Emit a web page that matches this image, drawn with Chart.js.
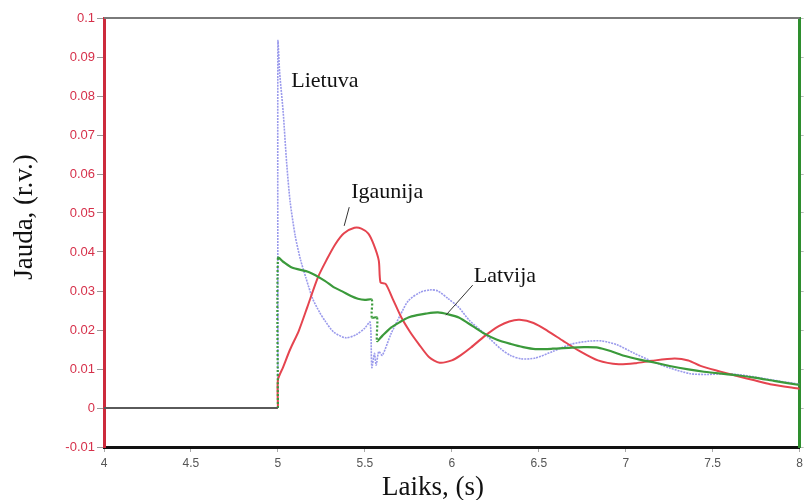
<!DOCTYPE html>
<html>
<head>
<meta charset="utf-8">
<script src="https://cdn.jsdelivr.net/npm/chart.js@4/dist/chart.umd.min.js"></script>
<style>
  html, body { margin: 0; padding: 0; background: #fff; }
  #wrap { width: 807px; height: 500px; }
</style>
</head>
<body>
<div id="wrap"><canvas id="c" width="807" height="500"></canvas></div>
<script>
// ticks
const xTicks = [4, 4.5, 5, 5.5, 6, 6.5, 7, 7.5, 8];
const yTicks = [-0.01, 0, 0.01, 0.02, 0.03, 0.04, 0.05, 0.06, 0.07, 0.08, 0.09, 0.1];

// flat part before the disturbance (all three overlap)
const zeroT = [4, 5];
const zeroV = [0, 0];

// Lietuva
const lietuvaT = [5, 5, 5.01, 5.03, 5.05, 5.07, 5.1, 5.13, 5.16, 5.2, 5.24, 5.27, 5.32, 5.39, 5.45, 5.5, 5.53,
  5.54, 5.555, 5.565, 5.58, 5.6, 5.65, 5.7, 5.75, 5.82, 5.88, 5.92, 5.98, 6.04, 6.1, 6.19, 6.28, 6.34,
  6.4, 6.48, 6.58, 6.69, 6.78, 6.86, 6.95, 7.05, 7.15, 7.25, 7.37, 7.47, 7.57, 7.66, 7.76, 7.88, 8];
const lietuvaV = [0, 0.094, 0.086, 0.076, 0.063, 0.053, 0.044, 0.038, 0.0335, 0.028, 0.0245, 0.0224, 0.0195, 0.018, 0.0188, 0.0205, 0.022,
  0.0104, 0.014, 0.011, 0.0145, 0.0135, 0.019, 0.0235, 0.0275, 0.0297, 0.0303, 0.03, 0.028, 0.0258, 0.0225, 0.019, 0.0152, 0.0134,
  0.0126, 0.0128, 0.0145, 0.0164, 0.0171, 0.0172, 0.0162, 0.014, 0.012, 0.0103, 0.0088, 0.0086, 0.0088, 0.0085, 0.0078, 0.0069, 0.0061];

// Igaunija
const igaunijaT = [5, 5, 5.03, 5.07, 5.12, 5.17, 5.23, 5.28, 5.33, 5.38, 5.44, 5.48, 5.52, 5.55, 5.58, 5.59, 5.62,
  5.66, 5.71, 5.76, 5.81, 5.87, 5.93, 6, 6.05, 6.11, 6.19, 6.27, 6.33, 6.39, 6.47, 6.55, 6.64, 6.73, 6.84,
  6.96, 7.06, 7.15, 7.28, 7.36, 7.43, 7.54, 7.64, 7.74, 7.83, 8];
const igaunijaV = [0, 0.0072, 0.0105, 0.015, 0.0198, 0.026, 0.0335, 0.038, 0.042, 0.0448, 0.0462, 0.046, 0.0447, 0.042, 0.0378, 0.0322, 0.0318,
  0.028, 0.0232, 0.0195, 0.0164, 0.013, 0.0116, 0.0122, 0.0135, 0.0155, 0.0185, 0.021, 0.0222, 0.0226, 0.0218, 0.0198, 0.0172, 0.0147, 0.0122,
  0.0112, 0.0115, 0.0121, 0.0127, 0.0122, 0.0108, 0.0094, 0.0082, 0.0071, 0.0061, 0.0049];

// Latvija
const latvijaT = [5, 5, 5.03, 5.08, 5.18, 5.27, 5.32, 5.37, 5.42, 5.46, 5.5, 5.54, 5.54, 5.57, 5.57, 5.6, 5.65,
  5.7, 5.75, 5.8, 5.85, 5.92, 5.98, 6.04, 6.12, 6.19, 6.26, 6.34, 6.41, 6.48, 6.58, 6.69, 6.76, 6.84, 6.92,
  6.99, 7.08, 7.17, 7.26, 7.36, 7.45, 7.55, 7.64, 7.74, 7.86, 8];
const latvijaV = [0, 0.0385, 0.0375, 0.036, 0.0348, 0.0326, 0.031, 0.0299, 0.0287, 0.028, 0.0277, 0.0278, 0.0232, 0.0232, 0.0172, 0.0185, 0.0206,
  0.022, 0.0232, 0.0238, 0.0242, 0.0245, 0.024, 0.0232, 0.021, 0.019, 0.0175, 0.0164, 0.0156, 0.0151, 0.0152, 0.0155, 0.0156, 0.0155, 0.0145,
  0.0134, 0.0124, 0.0116, 0.0107, 0.0099, 0.0093, 0.0088, 0.0084, 0.0078, 0.0069, 0.0059];

const pts = (ts, vs) => ts.map((t, i) => ({ x: t, y: vs[i] }));

// labels placed in data coords, leader lines from -> to
const notes = [
  { text: "Lietuva", x: 5.077, y: 0.0823 },
  { text: "Igaunija", x: 5.421, y: 0.0538, line: [5.41, 0.0515, 5.381, 0.0467] },
  { text: "Latvija", x: 6.126, y: 0.0323, line: [6.12, 0.0315, 5.966, 0.0238] },
];

const vertDots = (dash) => ({
  borderDash: (ctx) => (ctx.p0.parsed.x === ctx.p1.parsed.x ? [2, 2] : dash),
});

const extras = {
  id: "extras",
  afterDraw(chart) {
    const { ctx, chartArea: a, scales } = chart;
    const x = scales.x, y = scales.y;
    ctx.save();
    // top frame line
    ctx.strokeStyle = "#7a7a7a";
    ctx.lineWidth = 2;
    ctx.beginPath();
    ctx.moveTo(a.left, a.top);
    ctx.lineTo(a.right, a.top);
    ctx.stroke();

    ctx.font = "22px 'Liberation Serif'";
    ctx.fillStyle = "#111";
    ctx.textBaseline = "alphabetic";
    notes.forEach((n) => {
      ctx.fillText(n.text, x.getPixelForValue(n.x), y.getPixelForValue(n.y));
      if (n.line) {
        ctx.strokeStyle = "#333";
        ctx.lineWidth = 1;
        ctx.beginPath();
        ctx.moveTo(x.getPixelForValue(n.line[0]), y.getPixelForValue(n.line[1]));
        ctx.lineTo(x.getPixelForValue(n.line[2]), y.getPixelForValue(n.line[3]));
        ctx.stroke();
      }
    });

    // axis titles
    ctx.font = "27px 'Liberation Serif'";
    ctx.textAlign = "center";
    ctx.textBaseline = "alphabetic";
    ctx.fillText("Laiks, (s)", 433, 495);
    ctx.translate(32, 217);
    ctx.rotate(-Math.PI / 2);
    ctx.fillText("Jauda, (r.v.)", 0, 0);
    ctx.restore();
  },
};

const tickFont = { family: "'Liberation Sans', Arial, sans-serif", size: 12 };

new Chart(document.getElementById("c"), {
  type: "line",
  data: {
    datasets: [
      { data: pts(zeroT, zeroV), borderColor: "#5a5a5a", borderWidth: 2, tension: 0 },
      { data: pts(latvijaT, latvijaV), borderColor: "#3b9a3b", borderWidth: 2.2, segment: vertDots(undefined) },
      { data: pts(igaunijaT, igaunijaV), borderColor: "#e5444f", borderWidth: 2 },
      { data: pts(lietuvaT, lietuvaV), borderColor: "#9a9aec", borderWidth: 1.6, borderDash: [2, 1] },
    ],
  },
  options: {
    responsive: false,
    animation: false,
    layout: { padding: { top: 18, left: 0, right: 0, bottom: 0 } },
    elements: { point: { radius: 0 }, line: { tension: 0.25, capBezierPoints: true } },
    plugins: { legend: { display: false }, tooltip: { enabled: false } },
    scales: {
      x: {
        type: "linear",
        min: 4,
        max: 8,
        afterBuildTicks: (s) => { s.ticks = xTicks.map((v) => ({ value: v })); },
        afterFit: (s) => { s.height = 53; },
        border: { color: "#111", width: 3 },
        grid: { drawOnChartArea: false, tickLength: 5, color: "#aaa" },
        ticks: { color: "#555", font: tickFont, padding: 4, maxRotation: 0, callback: (v) => String(v) },
      },
      y: {
        min: -0.01,
        max: 0.1,
        afterBuildTicks: (s) => { s.ticks = yTicks.map((v) => ({ value: v })); },
        afterFit: (s) => { s.width = 104; },
        border: { color: "#cc2a3c", width: 3 },
        grid: { drawOnChartArea: false, tickLength: 7, color: "#999" },
        ticks: { color: "#d6304a", font: { ...tickFont, size: 13 }, padding: 2, callback: (v) => String(Number(v.toFixed(2))) },
      },
      y2: {
        position: "right",
        min: -0.01,
        max: 0.1,
        afterBuildTicks: (s) => { s.ticks = yTicks.map((v) => ({ value: v })); },
        afterFit: (s) => { s.width = 5; },
        border: { color: "#2e8e2e", width: 3 },
        grid: { drawOnChartArea: false, tickLength: 4, color: "#bbb" },
        ticks: { display: false },
      },
    },
  },
  plugins: [extras],
});
</script>
</body>
</html>
